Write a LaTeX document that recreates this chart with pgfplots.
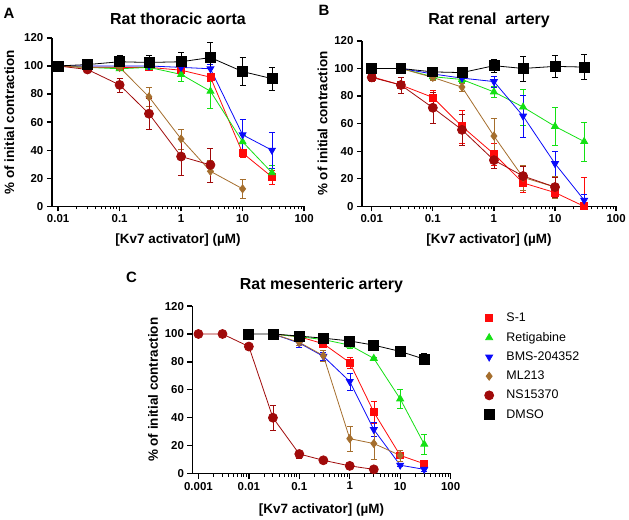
\documentclass[border=0pt]{standalone}
\usepackage{pgfplots}
\pgfplotsset{compat=1.18}
\usepackage{pgfplotstable}
\usepackage{fontspec}
\setmainfont{Liberation Sans}
\definecolor{cS}{RGB}{255,10,10}
\definecolor{cR}{RGB}{20,225,20}
\definecolor{cB}{RGB}{10,10,250}
\definecolor{cM}{RGB}{165,110,45}
\definecolor{cN}{RGB}{160,10,10}
\definecolor{cD}{RGB}{0,0,0}

\pgfplotstableread{
x y e
0.01 100 0
0.03 99 0
0.1 99 1
0.3 99 1
1 97 2
3 92 3
10 38 3
30 21 5
}\tAS
\pgfplotstableread{
x y e
0.01 100 0
0.03 99 0
0.1 98 1
0.3 99 1
1 94 5
3 82 12
10 46 5
30 24 5
}\tAR
\pgfplotstableread{
x y e
0.01 100 0
0.03 100 0
0.1 100 0
0.3 100 0
1 99 1
3 98 3
10 51 11
30 40 13
}\tAB
\pgfplotstableread{
x y e
0.01 100 0
0.03 99 0
0.1 99 0
0.3 78 7
1 48 7
3 25 8
10 12.5 7
}\tAM
\pgfplotstableread{
x y e
0.01 100 0
0.03 97.5 1
0.1 86.5 5
0.3 66 11
1 35.5 13
3 29.5 12
}\tAN
\pgfplotstableread{
x y e
0.01 100 0
0.03 101 1
0.1 103 5
0.3 102.5 5
1 103 7
3 106 11
10 96 10
30 91 8
}\tAD
\pgfplotstableread{
x y ep em
0.01 94 3 3
0.03 88 6 6
0.1 79 5 5
0.3 58 12 12
1 38 8 8
3 17 7 7
10 10 4 4
30 0 21 0
}\tBS
\pgfplotstableread{
x y e
0.01 100 0
0.03 100 0
0.1 94 2
0.3 92 2
1 83 4
3 72 13
10 58 14
30 47 14
}\tBR
\pgfplotstableread{
x y e
0.01 100 0
0.03 100 0
0.1 96 1
0.3 93 2
1 90.5 4
3 65.5 15
10 31 9
30 4.5 4
}\tBB
\pgfplotstableread{
x y e
0.01 100 0
0.03 100 0
0.1 93.5 2
0.3 86.5 3
1 51 13
3 21 9
10 14 8
}\tBM
\pgfplotstableread{
x y e
0.01 93.5 3
0.03 88 6
0.1 71.5 11
0.3 55.5 11
1 33.5 6
3 22 7
10 14 7
}\tBN
\pgfplotstableread{
x y e
0.01 100 0
0.03 100 0
0.1 97.5 3
0.3 97 4
1 102 5
3 100 9
10 101.5 8
30 101 9
}\tBD
\pgfplotstableread{
x y e
0.03 100 0
0.1 98 1
0.3 93 2
1 79.5 4
3 44 8
10 13 4
30 7 1
}\tCS
\pgfplotstableread{
x y e
0.03 100 0
0.1 98 1
0.3 96 1
1 92 2
3 82.5 1
10 53.5 7
30 21 7
}\tCR
\pgfplotstableread{
x y e
0.03 100 0
0.1 93.5 3
0.3 84 3
1 66 6
3 31.5 5
10 6 1
30 3 1
}\tCB
\pgfplotstableread{
x y e
0.03 100 0
0.1 94 2
0.3 84.5 4
1 25 9
3 21.5 11
10 13 4
}\tCM
\pgfplotstableread{
x y e
0.001 100 0
0.003 100 0
0.01 91 1
0.03 40 9
0.1 14 3
0.3 9.5 1
1 5.5 1
3 3 1
}\tCN
\pgfplotstableread{
x y e
0.01 100 0
0.03 100 0
0.1 98.5 1
0.3 97 1
1 95 2
3 92 3
10 87.5 3
30 82 4
}\tCD

\pgfplotsset{
  every axis/.append style={
    scale only axis, clip=false,
    axis x line*=bottom, axis y line*=left,
    ymin=0, ymax=120, ytick={0,20,40,60,80,100,120},
    yticklabels={0,20,40,60,80,100,120},
    tick align=outside,
    axis line style={line width=1.6pt},
    major tick style={line width=1.3pt, black},
    minor tick style={line width=1pt, black},
    major tick length=5pt, minor tick length=3pt,
    tick label style={font=\bfseries\fontsize{11.5}{13}\selectfont},
    every axis label/.append style={font=\bfseries\fontsize{13.5}{15}\selectfont},
    every axis title/.append style={font=\bfseries\fontsize{16}{18}\selectfont, yshift=4pt},
  },
  every axis plot/.append style={line width=0.8pt},
}

\begin{document}
\begin{tikzpicture}
\path[fill=white] (0pt,0pt) rectangle (629pt,518pt);

% Panel A
\begin{axis}[xmode=log, at={(52pt,311pt)}, anchor=south west, width=253pt, height=169pt,
  xmin=0.0079, xmax=100,
  xtick={0.01,0.1,1,10,100}, xticklabels={0.01,0.1,1,10,100},
  xlabel={{[}Kv7 activator{]} (µM)}, ylabel={\% of initial contraction},
  xlabel style={yshift=-4pt}, ylabel style={yshift=3pt},
  title={Rat thoracic aorta}]
\addplot[color=cS, mark=square*, mark size=3.5pt, mark options={solid}, error bars/.cd, y dir=both, y explicit, error mark options={rotate=90, mark size=3pt}] table[x=x, y=y, y error=e] {\tAS};
\addplot[color=cR, mark=triangle*, mark size=4pt, mark options={solid}, error bars/.cd, y dir=both, y explicit, error mark options={rotate=90, mark size=3pt}] table[x=x, y=y, y error=e] {\tAR};
\addplot[color=cB, mark=triangle*, mark size=4pt, mark options={solid, rotate=180}, error bars/.cd, y dir=both, y explicit, error mark options={rotate=90, mark size=3pt}] table[x=x, y=y, y error=e] {\tAB};
\addplot[color=cM, mark=diamond*, mark size=4pt, mark options={solid}, error bars/.cd, y dir=both, y explicit, error mark options={rotate=90, mark size=3pt}] table[x=x, y=y, y error=e] {\tAM};
\addplot[color=cN, mark=*, mark size=4.5pt, mark options={solid}, error bars/.cd, y dir=both, y explicit, error mark options={rotate=90, mark size=3pt}] table[x=x, y=y, y error=e] {\tAN};
\addplot[color=cD, mark=square*, mark size=5pt, mark options={solid}, error bars/.cd, y dir=both, y explicit, error mark options={rotate=90, mark size=3pt}] table[x=x, y=y, y error=e] {\tAD};
\end{axis}

% Panel B
\begin{axis}[xmode=log, at={(363pt,311pt)}, anchor=south west, width=255pt, height=166pt,
  xmin=0.0069, xmax=100,
  xtick={0.01,0.1,1,10,100}, xticklabels={0.01,0.1,1,10,100},
  xlabel={{[}Kv7 activator{]} (µM)}, ylabel={\% of initial contraction},
  xlabel style={yshift=-4pt},
  title={Rat renal\ \ artery}]
\addplot[color=cS, mark=square*, mark size=3.5pt, mark options={solid}, error bars/.cd, y dir=both, y explicit, error mark options={rotate=90, mark size=3pt}] table[x=x, y=y, y error plus=ep, y error minus=em] {\tBS};
\addplot[color=cR, mark=triangle*, mark size=4pt, mark options={solid}, error bars/.cd, y dir=both, y explicit, error mark options={rotate=90, mark size=3pt}] table[x=x, y=y, y error=e] {\tBR};
\addplot[color=cB, mark=triangle*, mark size=4pt, mark options={solid, rotate=180}, error bars/.cd, y dir=both, y explicit, error mark options={rotate=90, mark size=3pt}] table[x=x, y=y, y error=e] {\tBB};
\addplot[color=cM, mark=diamond*, mark size=4pt, mark options={solid}, error bars/.cd, y dir=both, y explicit, error mark options={rotate=90, mark size=3pt}] table[x=x, y=y, y error=e] {\tBM};
\addplot[color=cN, mark=*, mark size=4.5pt, mark options={solid}, error bars/.cd, y dir=both, y explicit, error mark options={rotate=90, mark size=3pt}] table[x=x, y=y, y error=e] {\tBN};
\addplot[color=cD, mark=square*, mark size=5pt, mark options={solid}, error bars/.cd, y dir=both, y explicit, error mark options={rotate=90, mark size=3pt}] table[x=x, y=y, y error=e] {\tBD};
\end{axis}

% Panel C
\begin{axis}[xmode=log, at={(193pt,43pt)}, anchor=south west, width=259pt, height=168pt,
  xmin=0.00076, xmax=100,
  xtick={0.001,0.01,0.1,1,10,100}, xticklabels={0.001,0.01,0.1,1,10,100},
  xlabel={{[}Kv7 activator{]} (µM)}, ylabel={\% of initial contraction},
  xlabel style={yshift=-7pt},
  title={Rat mesenteric artery},
  legend image code/.code={\draw[#1, only marks] plot coordinates {(0.2cm,0cm)}; \path[draw=none] (0cm,0cm) (0.74cm,0cm);},
  legend style={draw=none, fill=none, at={(1.115,0.982)},
    anchor=north west, font=\fontsize{12.5}{14}\selectfont, row sep=5pt},
  legend cell align=left]
\addplot[color=cS, mark=square*, mark size=3.5pt, mark options={solid}, error bars/.cd, y dir=both, y explicit, error mark options={rotate=90, mark size=3pt}] table[x=x, y=y, y error=e] {\tCS};
\addlegendentry{S-1}
\addplot[color=cR, mark=triangle*, mark size=4pt, mark options={solid}, error bars/.cd, y dir=both, y explicit, error mark options={rotate=90, mark size=3pt}] table[x=x, y=y, y error=e] {\tCR};
\addlegendentry{Retigabine}
\addplot[color=cB, mark=triangle*, mark size=4pt, mark options={solid, rotate=180}, error bars/.cd, y dir=both, y explicit, error mark options={rotate=90, mark size=3pt}] table[x=x, y=y, y error=e] {\tCB};
\addlegendentry{BMS-204352}
\addplot[color=cM, mark=diamond*, mark size=4pt, mark options={solid}, error bars/.cd, y dir=both, y explicit, error mark options={rotate=90, mark size=3pt}] table[x=x, y=y, y error=e] {\tCM};
\addlegendentry{ML213}
\addplot[color=cN, mark=*, mark size=4.5pt, mark options={solid}, error bars/.cd, y dir=both, y explicit, error mark options={rotate=90, mark size=3pt}] table[x=x, y=y, y error=e] {\tCN};
\addlegendentry{NS15370}
\addplot[color=cD, mark=square*, mark size=5pt, mark options={solid}, error bars/.cd, y dir=both, y explicit, error mark options={rotate=90, mark size=3pt}] table[x=x, y=y, y error=e] {\tCD};
\addlegendentry{DMSO}
\end{axis}

\node[font=\bfseries\fontsize{15}{17}\selectfont] at (9pt,505pt) {A};
\node[font=\bfseries\fontsize{15}{17}\selectfont] at (325pt,508pt) {B};
\node[font=\bfseries\fontsize{15}{17}\selectfont] at (132pt,240pt) {C};
\end{tikzpicture}
\end{document}
